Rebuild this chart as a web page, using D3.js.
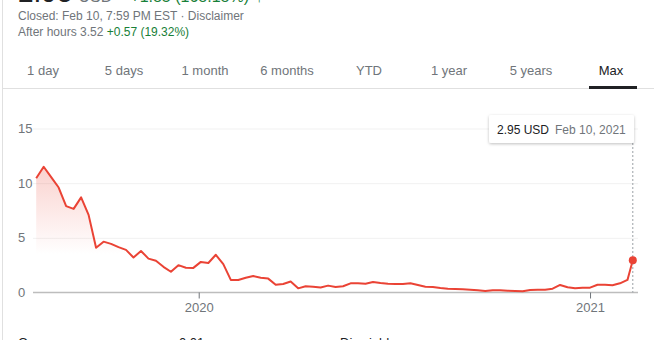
<!DOCTYPE html>
<html>
<head>
<meta charset="utf-8">
<script src="https://cdn.jsdelivr.net/npm/d3@7"></script>
<style>
  body { margin: 0; background: #fff; font-family: Arial, "Liberation Sans", sans-serif; }
  svg { display: block; }
</style>
</head>
<body>
<svg id="chart" width="654" height="340"></svg>
<script>
// weekly closes (Fridays)
const startDate = "2019-08-02";
const weeklyClose = [
  10.45, 11.5, 10.55, 9.6, 7.9, 7.65, 8.7, 7.1, 4.1, 4.65,
  4.45, 4.15, 3.9, 3.2, 3.8, 3.1, 2.9, 2.35, 1.9, 2.5,
  2.27, 2.25, 2.8, 2.7, 3.45, 2.6, 1.15, 1.15, 1.35, 1.5,
  1.35, 1.27, 0.7, 0.78, 1.0, 0.38, 0.57, 0.53, 0.45, 0.63,
  0.5, 0.57, 0.84, 0.84, 0.8, 0.96, 0.87, 0.8, 0.78, 0.78,
  0.84, 0.69, 0.53, 0.5, 0.41, 0.35, 0.32, 0.29, 0.26, 0.2,
  0.14, 0.2, 0.2, 0.16, 0.14, 0.11, 0.23, 0.26, 0.26, 0.35,
  0.69, 0.48, 0.38, 0.44, 0.44, 0.71, 0.71, 0.66, 0.84, 1.15
];
const lastDate = "2021-02-10";
const lastClose = 2.95;

const yTicks = [0, 5, 10, 15];
const yearTicks = ["2020-01-01", "2021-01-01"];
const tabs = ["1 day", "5 days", "1 month", "6 months", "YTD", "1 year", "5 years", "Max"];
const tabCenters = [43, 124, 205, 287, 369, 449, 531, 611];

const parse = d3.timeParse("%Y-%m-%d");
let data = weeklyClose.map((v, i) => ({date: d3.timeDay.offset(parse(startDate), 7 * i), value: v}));
data.push({date: parse(lastDate), value: lastClose});

const svg = d3.select("#chart");
const red = "#ea4335";

// left border
svg.append("line").attr("x1", 2.5).attr("x2", 2.5).attr("y1", 0).attr("y2", 340)
    .attr("stroke", "#e0e0e0").attr("stroke-width", 1);

// header (cut off at top)
const head = svg.append("text").attr("x", 18).attr("y", 1.5);
head.append("tspan").attr("font-size", 28).attr("fill", "#202124").text("2.95");
head.append("tspan").attr("font-size", 16).attr("fill", "#70757a").attr("dx", 6).text("USD");
head.append("tspan").attr("font-size", 16).attr("fill", "#188038").attr("dx", 18).text("+1.85 (168.18%)");
head.append("tspan").attr("font-size", 16).attr("fill", "#188038").attr("dx", 6).text("↑");

svg.append("text").attr("x", 18).attr("y", 20).attr("font-size", 12).attr("fill", "#70757a")
    .text("Closed: Feb 10, 7:59 PM EST · Disclaimer");
const ah = svg.append("text").attr("x", 18).attr("y", 36).attr("font-size", 12).attr("fill", "#70757a");
ah.append("tspan").text("After hours 3.52 ");
ah.append("tspan").attr("fill", "#188038").text("+0.57 (19.32%)");

// tabs
svg.selectAll("text.tab").data(tabs).enter().append("text")
    .attr("class", "tab")
    .attr("x", (d, i) => tabCenters[i])
    .attr("y", 75)
    .attr("text-anchor", "middle")
    .attr("font-size", 13)
    .attr("fill", d => d === "Max" ? "#202124" : "#70757a")
    .text(d => d);
svg.append("line").attr("x1", 3).attr("x2", 654).attr("y1", 88.5).attr("y2", 88.5)
    .attr("stroke", "#e0e0e0");
svg.append("rect").attr("x", 589).attr("y", 86).attr("width", 48).attr("height", 3).attr("fill", "#202124");

// scales
const x = d3.scaleTime().domain([parse(startDate), parse(lastDate)]).range([36.2, 632.8]);
const y = d3.scaleLinear().domain([0, 15]).range([292.5, 128.5]);
const plotLeft = 33, plotRight = 638;

// gridlines
const grid = svg.append("g").attr("transform", `translate(${plotLeft},0)`)
    .call(d3.axisLeft(y).tickValues(yTicks.slice(1)).tickSize(-(plotRight - plotLeft)).tickFormat(""));
grid.select(".domain").remove();
grid.selectAll("line").attr("stroke", "#f1f1f1");

// y labels
svg.selectAll("text.ylab").data(yTicks).enter().append("text")
    .attr("class", "ylab")
    .attr("x", 18)
    .attr("y", d => y(d) + 4.5)
    .attr("font-size", 13)
    .attr("fill", "#70757a")
    .text(d => d);

// area gradient
const defs = svg.append("defs");
const grad = defs.append("linearGradient").attr("id", "fade")
    .attr("gradientUnits", "userSpaceOnUse")
    .attr("x1", 0).attr("x2", 0).attr("y1", y(11.5)).attr("y2", y(3.5));
grad.append("stop").attr("offset", 0).attr("stop-color", red).attr("stop-opacity", 0.24);
grad.append("stop").attr("offset", 1).attr("stop-color", red).attr("stop-opacity", 0);

svg.append("path").datum(data)
    .attr("fill", "url(#fade)")
    .attr("d", d3.area().x(d => x(d.date)).y0(y(0)).y1(d => y(d.value)));

// baseline + year ticks
svg.append("line").attr("x1", plotLeft).attr("x2", plotRight).attr("y1", y(0)).attr("y2", y(0))
    .attr("stroke", "#bdbdbd").attr("stroke-width", 1.5);
const xa = svg.append("g").attr("transform", `translate(0,${y(0)})`)
    .call(d3.axisBottom(x).tickValues(yearTicks.map(parse)).tickSize(6).tickPadding(4)
        .tickFormat(d3.timeFormat("%Y")));
xa.select(".domain").remove();
xa.selectAll("line").attr("stroke", "#70757a");
xa.selectAll("text").attr("font-size", 13).attr("fill", "#70757a")
    .attr("font-family", "Arial, 'Liberation Sans', sans-serif");

// price line
svg.append("path").datum(data)
    .attr("fill", "none")
    .attr("stroke", red)
    .attr("stroke-width", 2)
    .attr("stroke-linejoin", "round")
    .attr("d", d3.line().x(d => x(d.date)).y(d => y(d.value)));

// hover marker
const last = data[data.length - 1];
svg.append("line")
    .attr("x1", x(last.date)).attr("x2", x(last.date))
    .attr("y1", 143).attr("y2", y(0))
    .attr("stroke", "#9aa0a6").attr("stroke-dasharray", "2,2");
svg.append("circle").attr("cx", x(last.date)).attr("cy", y(last.value)).attr("r", 4).attr("fill", red);

const tip = svg.append("g");
const filt = defs.append("filter").attr("id", "sh").attr("x", "-20%").attr("y", "-40%").attr("width", "140%").attr("height", "180%");
filt.append("feDropShadow").attr("dx", 0).attr("dy", 1).attr("stdDeviation", 1.5).attr("flood-color", "#000").attr("flood-opacity", 0.25);
tip.append("rect").attr("x", 489).attr("y", 115).attr("width", 145).attr("height", 28)
    .attr("rx", 2).attr("fill", "#fff").attr("filter", "url(#sh)");
const tt = tip.append("text").attr("x", 497).attr("y", 133.5).attr("font-size", 12);
tt.append("tspan").attr("fill", "#202124").text(d3.format(".2f")(last.value) + " USD");
tt.append("tspan").attr("fill", "#70757a").attr("dx", 6).text(d3.timeFormat("%b %-d, %Y")(last.date));

// bottom row (cut off)
svg.append("text").attr("x", 18).attr("y", 347).attr("font-size", 13).attr("fill", "#202124").text("Open");
svg.append("text").attr("x", 179).attr("y", 347).attr("font-size", 13).attr("fill", "#202124").text("0.01");
svg.append("text").attr("x", 340).attr("y", 347).attr("font-size", 13).attr("fill", "#202124").text("Div yield");
</script>
</body>
</html>
